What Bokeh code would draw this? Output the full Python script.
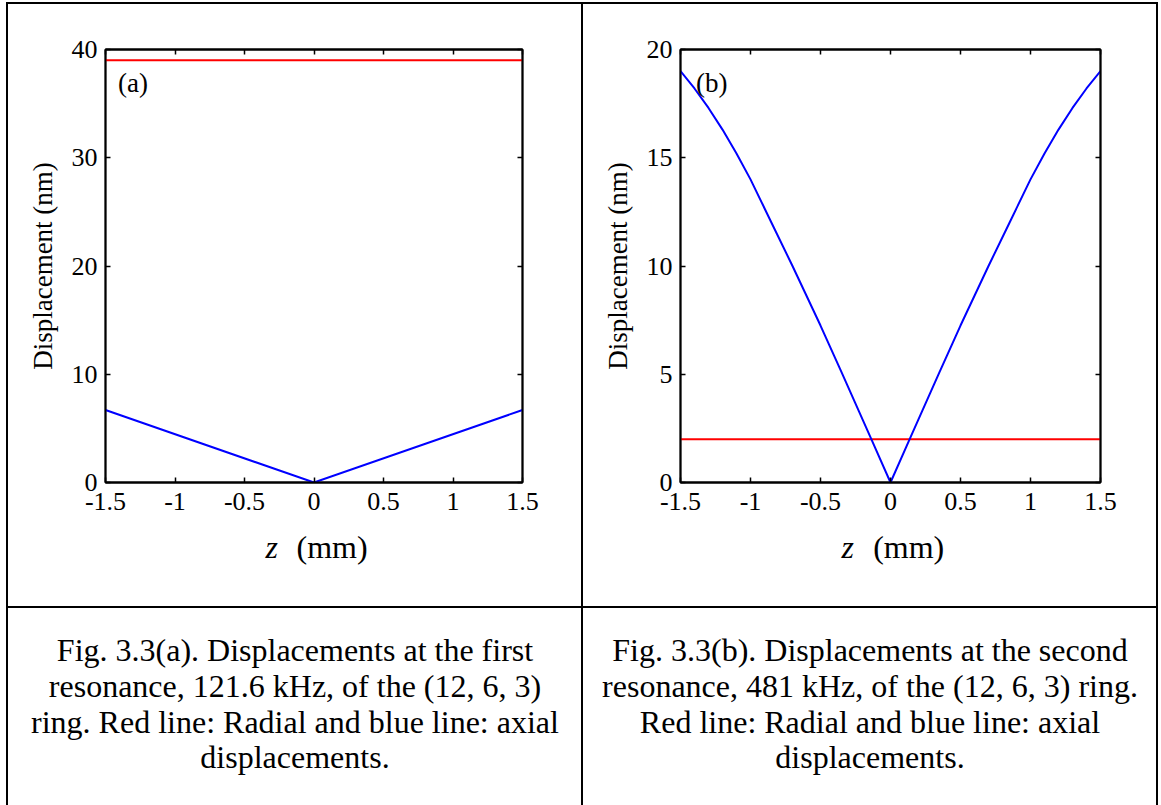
from bokeh.plotting import figure
from bokeh.models import (Label, LinearAxis, FixedTicker, Range1d, Spacer,
                          CustomJSTickFormatter, ColumnDataSource)
from bokeh.layouts import column, row
from bokeh.core.properties import value
from bokeh.embed import file_html
from bokeh.resources import INLINE

# ---------------- data ----------------
# (a) first resonance 121.6 kHz
z_a_axial = [-1.5, 0.0, 1.5]
axial_a = [6.7, 0.0, 6.7]
z_a_radial = [-1.5, 1.5]
radial_a = [39.0, 39.0]

# (b) second resonance 481 kHz
z_b_axial = [-1.5, -1.4, -1.3, -1.2, -1.1, -1.0, -0.85, -0.7, -0.5, -0.35, -0.137, 0.0,
             0.137, 0.35, 0.5, 0.7, 0.85, 1.0, 1.1, 1.2, 1.3, 1.4, 1.5]
axial_b = [19.0, 18.2, 17.3, 16.3, 15.2, 14.0, 12.0, 10.0, 7.25, 5.1, 2.0, 0.0,
           2.0, 5.1, 7.25, 10.0, 12.0, 14.0, 15.2, 16.3, 17.3, 18.2, 19.0]
z_b_radial = [-1.5, 1.5]
radial_b = [2.0, 2.0]

x_ticks = [-1.5, -1.0, -0.5, 0.0, 0.5, 1.0, 1.5]
y_ticks_a = [0, 10, 20, 30, 40]
y_ticks_b = [0, 5, 10, 15, 20]

x_title = ["z", "(mm)"]
x_title_style = ["italic", "normal"]

caption_a = ["Fig. 3.3(a). Displacements at the first",
             "resonance, 121.6 kHz, of the (12, 6, 3)",
             "ring. Red line: Radial and blue line: axial",
             "displacements."]
caption_b = ["Fig. 3.3(b). Displacements at the second",
             "resonance, 481 kHz, of the (12, 6, 3) ring.",
             "Red line: Radial and blue line: axial",
             "displacements."]

SERIF = "Liberation Serif"
RED = "#ff0000"
BLUE = "#0000ff"

CELL_H = 602
PLOT_H = 518
STRIP_H = CELL_H - PLOT_H
CAP_H = 197


def make_plot(width, left, right, y_hi, y_ticks, z_ax, ax, z_rad, rad, tag, tag_x, tag_y):
    p = figure(width=width, height=PLOT_H, output_backend="svg", toolbar_location=None,
               x_range=Range1d(-1.5, 1.5), y_range=Range1d(0, y_hi),
               min_border_left=left, min_border_right=right,
               min_border_top=45, min_border_bottom=40,
               x_axis_type=None, y_axis_type=None)
    p.background_fill_color = "white"
    p.border_fill_color = "white"
    p.outline_line_color = "black"
    p.outline_line_width = 1.8
    p.xgrid.visible = False
    p.ygrid.visible = False

    fmt_x = CustomJSTickFormatter(code="return String(tick);")
    fmt_y = CustomJSTickFormatter(code="return String(tick);")
    blank = CustomJSTickFormatter(code="return '';")

    def style(axis, labels=True):
        axis.major_tick_in = 5
        axis.major_tick_out = 0
        axis.minor_tick_in = 0
        axis.minor_tick_out = 0
        axis.major_tick_line_color = "black"
        axis.major_tick_line_width = 1.5
        axis.axis_line_color = "black"
        axis.axis_line_width = 1.8
        axis.major_label_text_font = SERIF
        axis.major_label_text_color = "black"
        if labels:
            axis.major_label_text_font_size = "26px"
        else:
            axis.major_label_text_font_size = "1px"
            axis.major_label_standoff = 0

    xb = LinearAxis(ticker=FixedTicker(ticks=x_ticks), formatter=fmt_x)
    style(xb)
    xb.major_label_standoff = 10
    p.add_layout(xb, "below")

    xt = LinearAxis(ticker=FixedTicker(ticks=x_ticks), formatter=blank)
    style(xt, labels=False)
    p.add_layout(xt, "above")

    yl = LinearAxis(ticker=FixedTicker(ticks=y_ticks), formatter=fmt_y,
                    axis_label="Displacement (nm)")
    style(yl)
    yl.major_label_standoff = 8
    yl.axis_label_text_font = SERIF
    yl.axis_label_text_font_size = "27px"
    yl.axis_label_text_font_style = "normal"
    yl.axis_label_text_color = "black"
    yl.axis_label_standoff = 11
    p.add_layout(yl, "left")

    yr = LinearAxis(ticker=FixedTicker(ticks=y_ticks), formatter=blank)
    style(yr, labels=False)
    p.add_layout(yr, "right")

    p.line(z_rad, rad, line_color=RED, line_width=2)
    p.line(z_ax, ax, line_color=BLUE, line_width=2)

    p.add_layout(Label(x=tag_x, y=tag_y, text=tag, text_font=SERIF,
                       text_font_size="27px", text_color="black",
                       text_baseline="alphabetic", text_align="left"))

    # strip below the plot carrying the x axis title "z  (mm)"
    s = figure(width=width, height=STRIP_H, output_backend="svg", toolbar_location=None,
               x_range=p.x_range, y_range=Range1d(STRIP_H, 0),
               min_border_left=left, min_border_right=right,
               min_border_top=0, min_border_bottom=0,
               x_axis_type=None, y_axis_type=None)
    s.outline_line_color = None
    s.background_fill_color = "white"
    s.border_fill_color = "white"
    s.xgrid.visible = False
    s.ygrid.visible = False
    src = ColumnDataSource(dict(x=[-0.305, 0.13], y=[24, 24], t=x_title, st=x_title_style))
    s.text(x="x", y="y", text="t", source=src, text_font=value(SERIF),
           text_font_style="st", text_font_size="32px", text_color="black",
           text_align="center", text_baseline="alphabetic")
    return column(p, s, spacing=0)


def make_caption(width, lines):
    c = figure(width=width, height=CAP_H, output_backend="svg", toolbar_location=None,
               x_range=Range1d(0, width), y_range=Range1d(CAP_H, 0),
               min_border=0, x_axis_type=None, y_axis_type=None)
    c.outline_line_color = None
    c.background_fill_color = "white"
    c.border_fill_color = "white"
    c.xgrid.visible = False
    c.ygrid.visible = False
    src = ColumnDataSource(dict(x=[width / 2.0] * len(lines),
                                y=[41.8 + 35.7 * i for i in range(len(lines))],
                                t=lines))
    c.text(x="x", y="y", text="t", source=src, text_font=value(SERIF),
           text_font_size="32px", text_color="black",
           text_align="center", text_baseline="alphabetic")
    return c


pa = make_plot(573, 97, 59, 40, y_ticks_a, z_a_axial, axial_a, z_a_radial, radial_a,
               "(a)", -1.41, 36.9)
pb = make_plot(573, 97, 56, 20, y_ticks_b, z_b_axial, axial_b, z_b_radial, radial_b,
               "(b)", -1.39, 18.45)
ca = make_caption(573, caption_a)
cb = make_caption(573, caption_b)


def black(w, h):
    return Spacer(width=w, height=h, styles={"background-color": "black"})


def blank_sp(w, h):
    return Spacer(width=w, height=h)


layout = column(
    blank_sp(1161, 2),
    row(blank_sp(6, 2), black(1152, 2)),
    row(blank_sp(6, CELL_H), black(2, CELL_H), pa, black(2, CELL_H), pb, black(2, CELL_H)),
    row(blank_sp(6, 2), black(1152, 2)),
    row(blank_sp(6, CAP_H), black(2, CAP_H), ca, black(2, CAP_H), cb, black(2, CAP_H)),
)

open("out.html", "w").write(file_html(layout, INLINE))
